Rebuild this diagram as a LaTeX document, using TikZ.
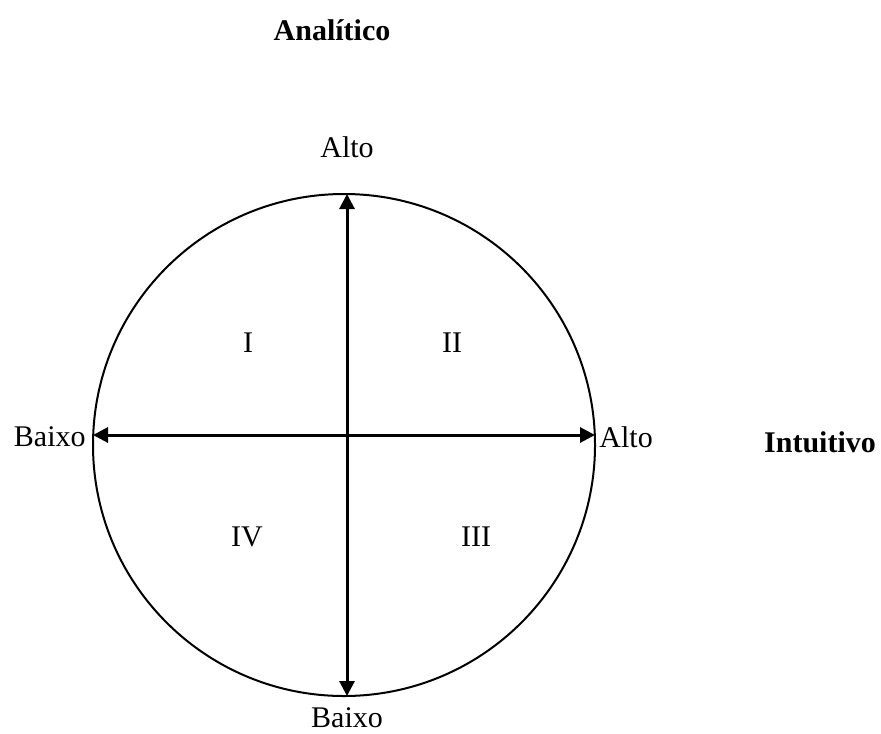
\documentclass[tikz,border=0pt]{standalone}
\usepackage{fontspec}
\setmainfont{Liberation Serif}
\usetikzlibrary{arrows.meta}

\begin{document}
\begin{tikzpicture}[x=0.5pt, y=-0.5pt,
    lbl/.style={font=\fontsize{15}{18}\selectfont, inner sep=0pt},
    axtitle/.style={font=\fontsize{15}{18}\selectfont\bfseries, inner sep=0pt},
    arr/.style={{Triangle[length=7.5pt,width=7.5pt]}-{Triangle[length=7.5pt,width=7.5pt]}, line width=1.5pt}
  ]
  \useasboundingbox (0,0) rectangle (881,733);
  % circle
  \draw[line width=1pt] (344,445) circle[radius=251];
  % ends of the axes on the circle
  \coordinate (top)    at (347,194);
  \coordinate (bottom) at (347,696);
  \coordinate (left)   at (93,435);
  \coordinate (right)  at (595,435);
  % labels
  \node[lbl] (altotop)    at (347,147) {Alto};
  \node[lbl] (baixobot)   at (347,718) {Baixo};
  \node[lbl, anchor=east] (baixoleft) at (86,437) {Baixo};
  \node[lbl, anchor=west] (altoright) at (599,437) {Alto};
  \node[axtitle] (analitico) at (332,30)  {Analítico};
  \node[axtitle] (intuitivo) at (820,442) {Intuitivo};
  % quadrants
  \node[lbl] (q1) at (248,343) {I};
  \node[lbl] (q2) at (452,343) {II};
  \node[lbl] (q3) at (476,537) {III};
  \node[lbl] (q4) at (247,537) {IV};
  % axes
  \draw[arr] (bottom) -- (top);
  \draw[arr] (left) -- (right);
\end{tikzpicture}
\end{document}
